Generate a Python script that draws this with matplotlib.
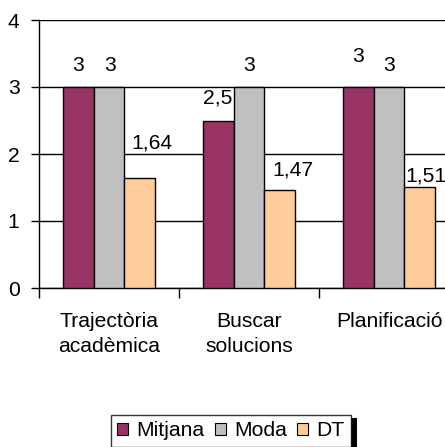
import matplotlib
matplotlib.use("Agg")
import matplotlib.pyplot as plt
from matplotlib.patches import Rectangle
import numpy as np

plt.rcParams['font.family'] = ['Liberation Sans', 'DejaVu Sans']

categories = ["Trajectòria\nacadèmica", "Buscar\nsolucions", "Planificació"]
series_names = ["Mitjana", "Moda", "DT"]
mitjana = [3, 2.5, 3]
moda = [3, 3, 3]
dt = [1.64, 1.47, 1.51]
y_ticks = [0, 1, 2, 3, 4]

colors = ["#993366", "#C0C0C0", "#FFCC99"]
FS = 15.2

# label nudges (pixels) for each series / category: (dx, dy above bar top)
label_offsets = [
    [(0, 16), (-1, 17), (0, 25)],
    [(1, 16), (0, 16), (0, 16)],
    [(12, 30), (13, 14), (6, 5)],
]

fig = plt.figure(figsize=(4.45, 4.47), dpi=100)
ax = fig.add_axes([39 / 445, 1 - 288 / 447, 420 / 445, 268 / 447])

values = [mitjana, moda, dt]
width = 0.22
x = np.arange(len(categories)) + 0.5
for i, (name, vals, col) in enumerate(zip(series_names, values, colors)):
    pos = x + (i - 1) * width
    bars = ax.bar(pos, vals, width, color=col, edgecolor="black",
                  linewidth=1.0, label=name, zorder=3)
    for j, (b, v) in enumerate(zip(bars, vals)):
        dx, dy = label_offsets[i][j]
        txt = f"{v:g}".replace(".", ",")
        ax.annotate(txt, (b.get_x() + b.get_width() / 2, v),
                    xytext=(dx, dy), textcoords="offset pixels",
                    ha="center", va="baseline", fontsize=FS,
                    color="black", annotation_clip=False, zorder=5)

ax.set_xlim(0, 3)
ax.set_ylim(0, 4)
ax.set_yticks(y_ticks)
ax.set_yticklabels([str(t) for t in y_ticks], fontsize=FS)
ax.yaxis.grid(True, color="black", linewidth=1.0, zorder=0)
ax.set_axisbelow(True)

ax.set_xticks([0, 1, 2, 3])
ax.set_xticklabels([])
ax.set_xticks(x, minor=True)
ax.set_xticklabels(categories, minor=True, fontsize=FS, linespacing=1.45)
ax.tick_params(axis="x", which="major", length=7, width=1, direction="out")
ax.tick_params(axis="x", which="minor", length=0, pad=17)
ax.tick_params(axis="y", length=6, width=1, pad=8, direction="out")

for s in ["top", "right"]:
    ax.spines[s].set_visible(False)
for s in ["left", "bottom"]:
    ax.spines[s].set_color("black")
    ax.spines[s].set_linewidth(1.0)

leg = fig.legend(loc="upper left", bbox_to_anchor=(111 / 445, 1 - 415 / 447),
                 ncol=3, fontsize=FS, frameon=True, fancybox=False,
                 handlelength=0.5, handleheight=0.5, handletextpad=0.4,
                 columnspacing=0.5, borderpad=0.3, borderaxespad=0)
leg.get_frame().set_edgecolor("black")
leg.get_frame().set_linewidth(1.0)
for h in leg.legend_handles:
    h.set_edgecolor("black")
    h.set_linewidth(0.8)

# drop shadow on the legend's right side
fig.canvas.draw()
bb = leg.get_window_extent()
inv = fig.transFigure.inverted()
(x0, y0) = inv.transform((bb.x1, bb.y0 - 6))
(x1, y1) = inv.transform((bb.x1 + 6, bb.y1 - 3))
fig.patches.append(Rectangle((x0, y0), x1 - x0, y1 - y0, transform=fig.transFigure,
                             facecolor="black", edgecolor="none", zorder=0))

fig.savefig("out.png", dpi=100)
